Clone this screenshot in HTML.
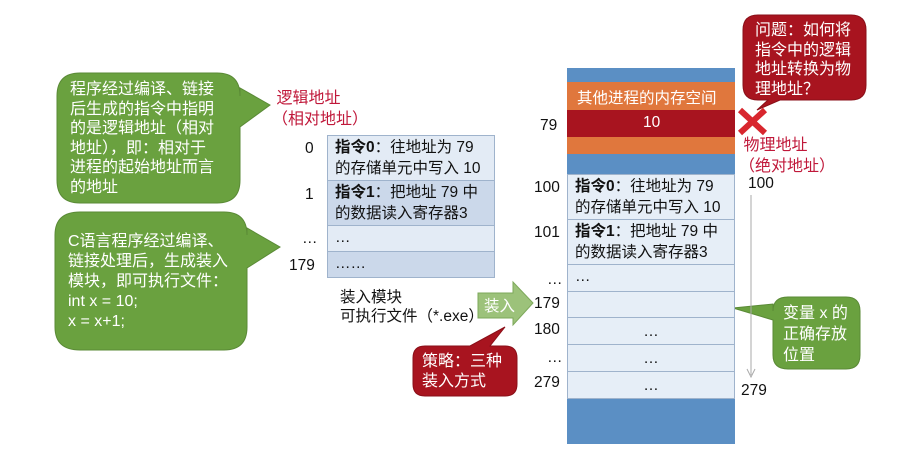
<!DOCTYPE html>
<html><head><meta charset="utf-8"><style>
body{margin:0;width:902px;height:466px;background:#fff;overflow:hidden;position:relative;font-family:"Liberation Sans","Noto Sans CJK SC",sans-serif;}
.a{position:absolute;white-space:nowrap;}
.t{font-size:15.5px;line-height:20px;color:#111;}
.w{color:#fff;font-size:16px;line-height:19.6px;}
.cell{position:absolute;box-sizing:border-box;border:1px solid #9fb3cc;padding:2px 0 0 7px;font-size:15.5px;line-height:20.5px;color:#111;}
.r{color:#c0183a;font-size:16px;line-height:21px;}
</style></head><body>
<svg class="a" style="left:0;top:0" width="902" height="466">
 <path d="M80,73 H217 Q240,73 240,96 V88 L270,105 L240,127 V180 Q240,203 217,203 H80 Q57,203 57,180 V96 Q57,73 80,73Z" fill="#6aa13f" stroke="#5a8a36"/>
 <path d="M80,212 H224 Q247,212 247,235 V228 L280,247 L247,268 V327 Q247,350 224,350 H80 Q55,350 55,327 V235 Q55,212 80,212Z" fill="#6aa13f" stroke="#5a8a36"/>
 <path d="M758,15 H851 Q866,15 866,30 V85 Q866,100 851,100 H780 L757,110 L768,100 H758 Q743,100 743,85 V30 Q743,15 758,15Z" fill="#a8141f" stroke="#8a0f18"/>
 <path d="M788,297 H846 Q860,297 860,311 V355 Q860,369 846,369 H788 Q773,369 773,355 V320 L733,308 L773,304 V311 Q773,297 788,297Z" fill="#6aa13f" stroke="#5a8a36"/>
 <path d="M425,346 H470 L505,327 L490,346 H505 Q517,346 517,358 V384 Q517,396 505,396 H425 Q413,396 413,384 V358 Q413,346 425,346Z" fill="#a8141f" stroke="#8a0f18"/>
 <path d="M478,293 H513 V282 L533,303 L513,325 V318 H478Z" fill="#9cc27a" stroke="#7da85a"/>
 <rect x="567" y="68" width="168" height="376" fill="#5b8fc4"/>
 <rect x="567" y="82" width="168" height="28" fill="#e0773d"/>
 <rect x="567" y="110" width="168" height="27" fill="#a8141f"/>
 <rect x="567" y="137" width="168" height="17" fill="#e0773d"/>
 <path d="M740,110 L765,133 M765,110 L740,133" stroke="#d8262e" stroke-width="6"/>
 <line x1="751" y1="195" x2="751" y2="375" stroke="#aaa" stroke-width="1"/>
 <path d="M747,369 L751,377 L755,369" fill="none" stroke="#aaa"/>
</svg>
<div class="a w" style="left:70px;top:80px">程序经过编译、链接<br>后生成的指令中指明<br>的是逻辑地址（相对<br>地址），即：相对于<br>进程的起始地址而言<br>的地址</div>
<div class="a w" style="left:68px;top:232px;line-height:20px">C语言程序经过编译、<br>链接处理后，生成装入<br>模块，即可执行文件：<br>int x = 10;<br>x = x+1;</div>
<div class="a r" style="left:272px;top:88px">&nbsp;逻辑地址<br>（相对地址）</div>
<div class="a t" style="left:305px;top:139px">0</div>
<div class="a t" style="left:305px;top:185px">1</div>
<div class="a t" style="left:302px;top:229px">…</div>
<div class="a t" style="left:289px;top:256px">179</div>
<div class="cell" style="left:327px;top:135px;width:168px;height:46px;background:#e3ebf5"><b>指令0</b>：往地址为 79<br>的存储单元中写入 10</div>
<div class="cell" style="left:327px;top:180px;width:168px;height:46px;background:#cbd8ea"><b>指令1</b>：把地址 79 中<br>的数据读入寄存器3</div>
<div class="cell" style="left:327px;top:225px;width:168px;height:27px;background:#e3ebf5">…</div>
<div class="cell" style="left:327px;top:251px;width:168px;height:27px;background:#cbd8ea">……</div>
<div class="a t" style="left:340px;top:288px;line-height:19px">装入模块<br>可执行文件（*.exe）</div>
<div class="a" style="left:484px;top:294px;color:#fff;font-size:15.5px">装入</div>
<div class="a w" style="left:422px;top:352px">策略：三种<br>装入方式</div>
<div class="a w" style="left:755px;top:21px">问题：如何将<br>指令中的逻辑<br>地址转换为物<br>理地址？</div>
<div class="a" style="left:577px;top:86px;color:#fff;font-size:15.5px">其他进程的内存空间</div>
<div class="a" style="left:643px;top:114px;color:#fff;font-size:15.5px">10</div>
<div class="a t" style="left:540px;top:116px">79</div>
<div class="a r" style="left:739px;top:135px">&nbsp;物理地址<br>（绝对地址）</div>
<div class="a t" style="left:748px;top:174px">100</div>
<div class="a t" style="left:534px;top:178px">100</div>
<div class="a t" style="left:534px;top:223px">101</div>
<div class="a t" style="left:547px;top:270px">…</div>
<div class="a t" style="left:534px;top:294px">179</div>
<div class="a t" style="left:534px;top:320px">180</div>
<div class="a t" style="left:547px;top:348px">…</div>
<div class="a t" style="left:534px;top:373px">279</div>
<div class="a t" style="left:741px;top:381px">279</div>
<div class="cell" style="left:567px;top:174px;width:168px;height:46px;background:#e6eef7"><b>指令0</b>：往地址为 79<br>的存储单元中写入 10</div>
<div class="cell" style="left:567px;top:219px;width:168px;height:46px;background:#e6eef7"><b>指令1</b>：把地址 79 中<br>的数据读入寄存器3</div>
<div class="cell" style="left:567px;top:264px;width:168px;height:28px;background:#e6eef7">…</div>
<div class="cell" style="left:567px;top:291px;width:168px;height:27px;background:#e6eef7"></div>
<div class="cell" style="left:567px;top:317px;width:168px;height:28px;background:#e6eef7;text-align:center;padding:4px 0 0">…</div>
<div class="cell" style="left:567px;top:344px;width:168px;height:28px;background:#e6eef7;text-align:center;padding:4px 0 0">…</div>
<div class="cell" style="left:567px;top:371px;width:168px;height:28px;background:#e6eef7;text-align:center;padding:4px 0 0">…</div>
<div class="a w" style="left:783px;top:303px;line-height:21px">变量 x 的<br>正确存放<br>位置</div>
</body></html>
